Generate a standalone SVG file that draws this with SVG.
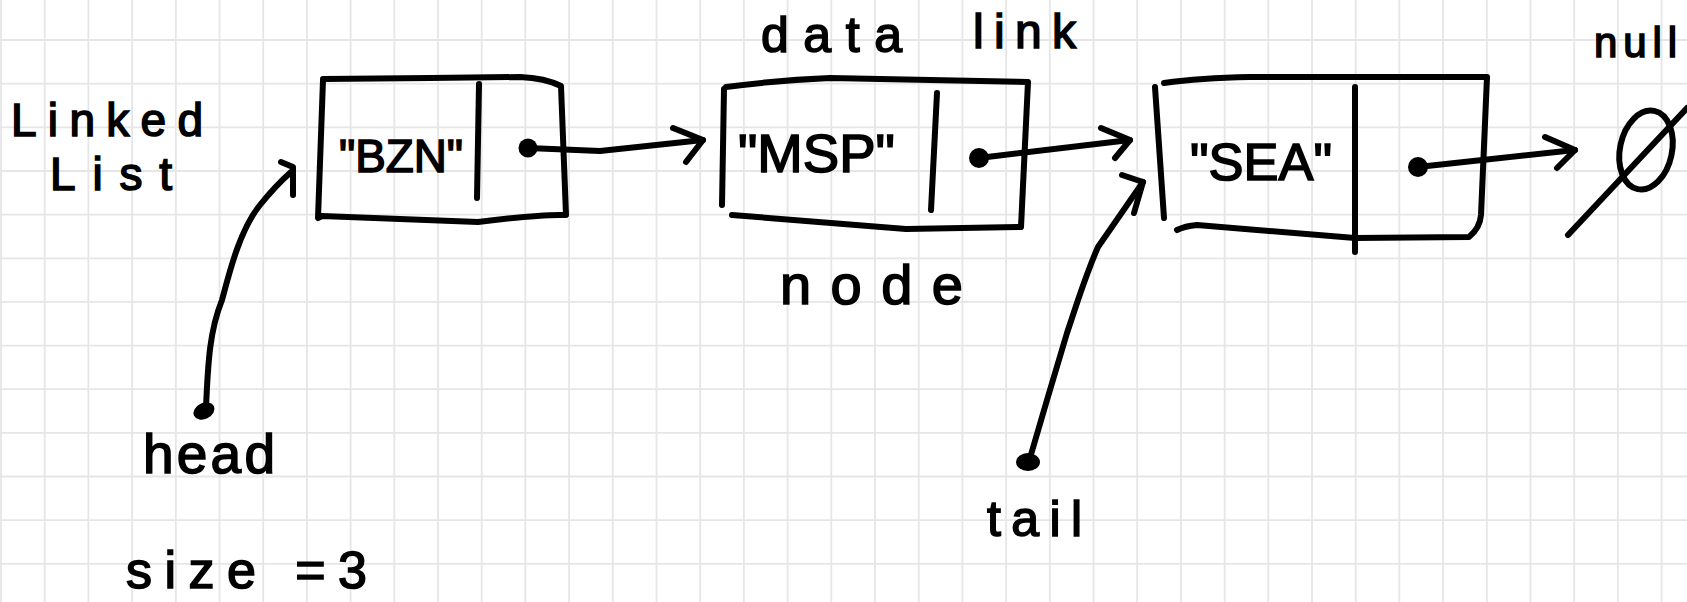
<svg xmlns="http://www.w3.org/2000/svg" width="1687" height="602" viewBox="0 0 1687 602">
<style>
.grid{stroke:#e6e6e6;stroke-width:1.8;fill:none}
.ink{stroke:#000;stroke-width:6;fill:none;stroke-linecap:round;stroke-linejoin:round}
.dot{fill:#000}
.t{font-family:"Liberation Sans","Noto Sans",sans-serif;fill:#000;stroke:#000;stroke-width:1.6}
</style>
<rect width="1687" height="602" fill="#fff"/>
<g id="grid">
<path class="grid" d="M1 0V602M44.7 0V602M88.4 0V602M132.1 0V602M175.8 0V602M219.5 0V602M263.2 0V602M306.9 0V602M350.6 0V602M394.3 0V602M438 0V602M481.7 0V602M525.4 0V602M569.1 0V602M612.8 0V602M656.5 0V602M700.2 0V602M743.9 0V602M787.6 0V602M831.3 0V602M875 0V602M918.7 0V602M962.4 0V602M1006.1 0V602M1049.8 0V602M1093.5 0V602M1137.2 0V602M1180.9 0V602M1224.6 0V602M1268.3 0V602M1312 0V602M1355.7 0V602M1399.4 0V602M1443.1 0V602M1486.8 0V602M1530.5 0V602M1574.2 0V602M1617.9 0V602M1661.6 0V602M0 40H1687M0 83.7H1687M0 127.3H1687M0 171H1687M0 214.6H1687M0 258.3H1687M0 301.9H1687M0 345.6H1687M0 389.2H1687M0 432.9H1687M0 476.5H1687M0 520.2H1687M0 563.8H1687"/>
</g>
<g id="title">
<text class="t" x="11" y="136" font-size="46" textLength="192" lengthAdjust="spacing">Linked</text>
<text class="t" x="50" y="190" font-size="46" textLength="122" lengthAdjust="spacing">List</text>
</g>
<g id="node-bzn">
<path class="ink" d="M323 79 L430 78 L520 77 Q545 78 561 86 L566 215 Q540 214 478 222 L322 216 L318 218 L323 80"/>
<path class="ink" d="M479 84 L477 198"/>
<circle class="dot" cx="528" cy="148" r="9.5"/>
<text class="t" x="339" y="172" font-size="47" textLength="124" lengthAdjust="spacingAndGlyphs">"BZN"</text>
</g>
<g id="node-msp">
<path class="ink" d="M726 87 Q780 80 830 78 L1028 82 L1021 227 L906 229 L732 215"/>
<path class="ink" d="M724 89 L722 205"/>
<path class="ink" d="M937 93 L931 210"/>
<circle class="dot" cx="979" cy="158" r="10"/>
<text class="t" x="738" y="172" font-size="53" textLength="157" lengthAdjust="spacingAndGlyphs">"MSP"</text>
</g>
<g id="node-sea">
<path class="ink" d="M1164 83 Q1200 78 1250 77 L1487 77 L1481 215 Q1480 228 1469 237 L1355 238 L1197 225 Q1185 226 1177 230"/>
<path class="ink" d="M1155 87 L1164 218"/>
<path class="ink" d="M1355 87 L1355 252"/>
<circle class="dot" cx="1418" cy="167" r="10"/>
<text class="t" x="1190" y="180" font-size="52" textLength="142" lengthAdjust="spacingAndGlyphs">"SEA"</text>
</g>
<g id="null">
<ellipse class="ink" cx="1646" cy="150" rx="26" ry="40" transform="rotate(12 1646 150)"/>
<path class="ink" d="M1568 235 L1687 108"/>
<text class="t" x="1594" y="57" font-size="42" textLength="83" lengthAdjust="spacing">null</text>
</g>
<g id="labels">
<text class="t" x="761" y="52" font-size="50" textLength="141" lengthAdjust="spacing">data</text>
<text class="t" x="973" y="48" font-size="48" textLength="103" lengthAdjust="spacing">link</text>
<text class="t" x="780" y="304" font-size="56" textLength="183" lengthAdjust="spacing">node</text>
<text class="t" x="143" y="473" font-size="55" textLength="132" lengthAdjust="spacing">head</text>
<text class="t" x="987" y="536" font-size="50" textLength="95" lengthAdjust="spacing">tail</text>
<text class="t" x="126" y="588" font-size="52" textLength="241" lengthAdjust="spacing">size =3</text>
</g>
<g id="connectors">
<path class="ink" d="M528 148 L600 151 L703 140"/>
<path class="ink" d="M673 128 L703 140 L686 162"/>
<path class="ink" d="M979 158 L1130 140"/>
<path class="ink" d="M1101 128 L1130 140 L1115 158"/>
<path class="ink" d="M1418 167 L1575 150"/>
<path class="ink" d="M1545 137 L1575 150 L1557 168"/>
<path class="ink" d="M206 408 C208 360 210 330 222 300 C230 270 240 230 260 205 C272 190 282 180 291 172"/>
<path class="ink" d="M281 162 L293 167 L293 195"/>
<ellipse class="dot" cx="204" cy="411" rx="11" ry="8" transform="rotate(-25 204 411)"/>
<path class="ink" d="M1030 458 L1047 400 L1067 333 L1078 300 Q1090 265 1098 247 L1143 182"/>
<path class="ink" d="M1122 175 L1143 182 L1134 213"/>
<ellipse class="dot" cx="1028" cy="462" rx="12" ry="9"/>
</g>
</svg>
